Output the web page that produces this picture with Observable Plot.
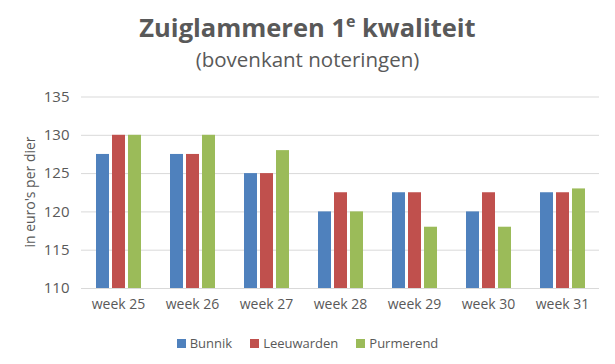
<!DOCTYPE html>
<html>
<head>
<meta charset="utf-8">
<script src="https://cdn.jsdelivr.net/npm/d3@7"></script>
<script src="https://cdn.jsdelivr.net/npm/@observablehq/plot@0.6"></script>
<style>
  body { margin: 0; background: #fff; font-family: "Open Sans", sans-serif; color: #595959; }
  #wrap { width: 615px; height: 364px; position: relative; overflow: hidden; }
  #title { position: absolute; top: 10px; left: 0; width: 615px; text-align: center; font-weight: bold; font-size: 25.5px; line-height: 34px; }
  #title sup { font-size: 16px; vertical-align: 0; position: relative; top: -10px; }
  #subtitle { position: absolute; top: 46px; left: 0; width: 615px; text-align: center; font-size: 20.5px; line-height: 26px; }
  #chart { position: absolute; top: 80px; left: 0; }
  #ylabel { position: absolute; left: 30px; top: 192px; transform: translate(-50%, -50%) rotate(-90deg); white-space: nowrap; font-size: 14px; line-height: 18px; }
  #legend { position: absolute; top: 334px; left: 0; width: 615px; text-align: center; font-size: 13px; line-height: 18px; }
  .item { display: inline-block; margin: 0 9px; }
  .sw { display: inline-block; width: 9px; height: 9px; margin-right: 4px; }
</style>
</head>
<body>
<div id="wrap">
  <div id="title">Zuiglammeren 1<sup>e</sup> kwaliteit</div>
  <div id="subtitle">(bovenkant noteringen)</div>
  <div id="chart"></div>
  <div id="ylabel">in euro's per dier</div>
  <div id="legend"></div>
</div>
<script>
const weeks = ["week 25", "week 26", "week 27", "week 28", "week 29", "week 30", "week 31"];
const series = ["Bunnik", "Leeuwarden", "Purmerend"];
const bunnik = [127.5, 127.5, 125, 120, 122.5, 120, 122.5];
const leeuwarden = [130, 127.5, 125, 122.5, 122.5, 122.5, 122.5];
const purmerend = [130, 130, 128, 120, 118, 118, 123];
const colors = ["#4F81BD", "#C0504D", "#9BBB59"];
const yTicks = [110, 115, 120, 125, 130, 135];

const values = [bunnik, leeuwarden, purmerend];
const data = [];
weeks.forEach((w, i) => series.forEach((s, j) => data.push({week: w, series: s, value: values[j][i]})));

const chart = Plot.plot({
  width: 615,
  height: 240,
  marginTop: 16.5,
  marginBottom: 32,
  marginLeft: 80,
  marginRight: 15,
  style: {fontFamily: "Open Sans, sans-serif", fontSize: "14px", color: "#595959"},
  fx: {domain: weeks, padding: 0, label: null, tickSize: 0, tickPadding: 11, axis: "bottom"},
  x: {domain: series, axis: null, paddingInner: 0.21, paddingOuter: 0.855},
  y: {domain: [110, 135], ticks: yTicks, tickSize: 0, tickPadding: 12, label: null, grid: false},
  color: {domain: series, range: colors},
  marks: [
    Plot.ruleY(yTicks, {stroke: "#d9d9d9", strokeWidth: 1}),
    Plot.barY(data, {fx: "week", x: "series", y1: 110, y2: "value", fill: "series"})
  ]
});
chart.querySelectorAll("g[aria-label='y-axis tick label'] text, g[aria-label='y-axis'] text").forEach(t => t.style.fontSize = "15px");
document.getElementById("chart").appendChild(chart);

const legend = document.getElementById("legend");
series.forEach((s, i) => {
  const item = document.createElement("span");
  item.className = "item";
  const sw = document.createElement("span");
  sw.className = "sw";
  sw.style.background = colors[i];
  item.appendChild(sw);
  item.appendChild(document.createTextNode(s));
  legend.appendChild(item);
});
</script>
</body>
</html>
